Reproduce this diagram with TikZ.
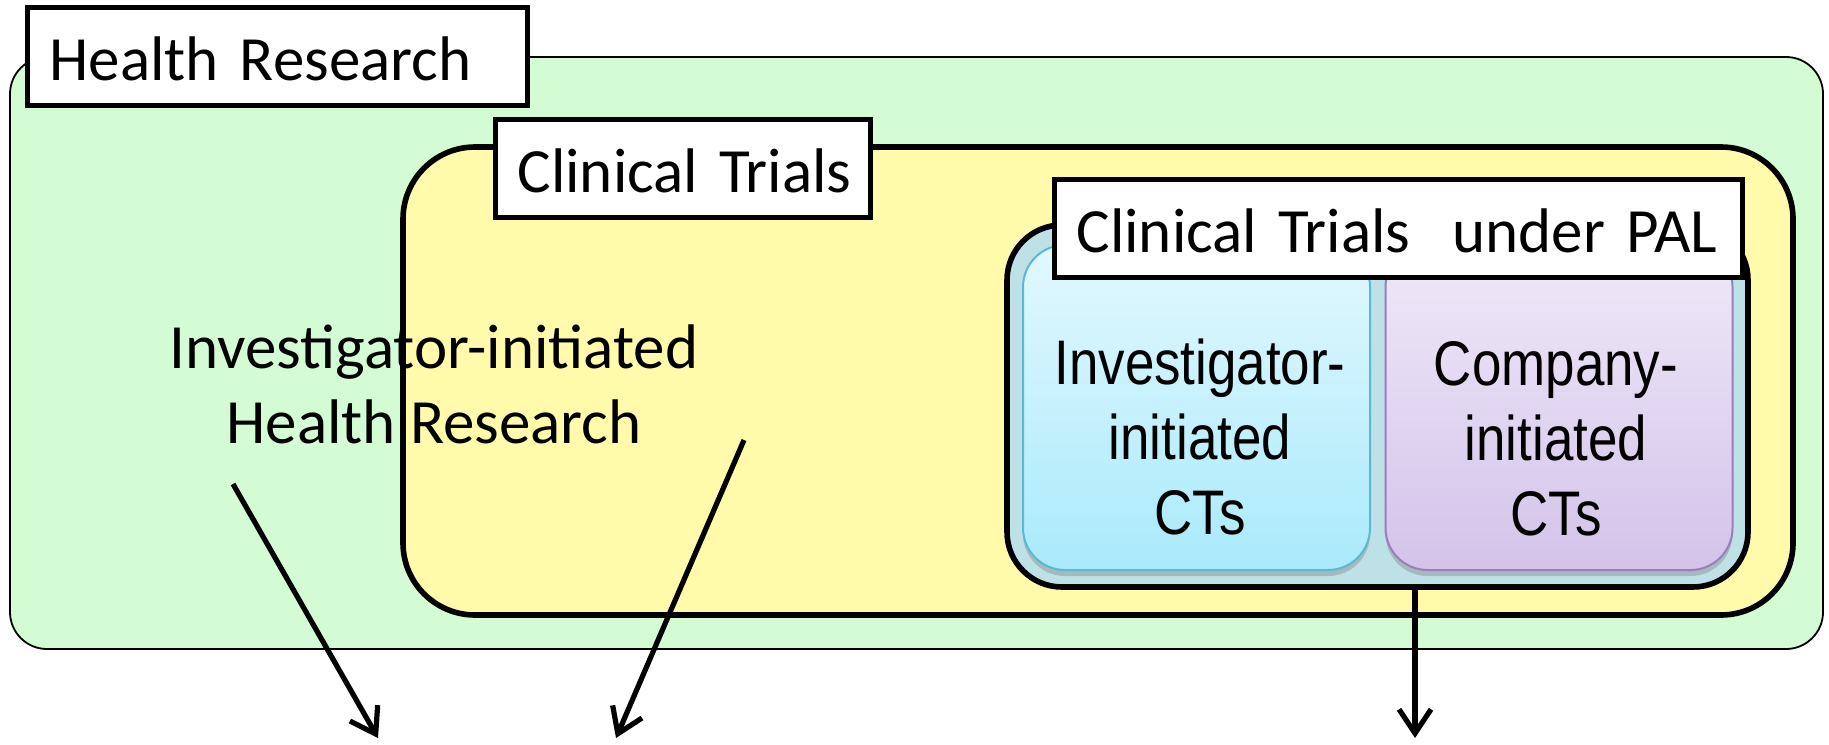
\documentclass[tikz,border=0pt]{standalone}
\usepackage{fontspec}
\setmainfont{Carlito}
\newfontfamily\narrowsans[FakeStretch=0.84]{Liberation Sans}
\usetikzlibrary{arrows.meta}
\usetikzlibrary{shadows}

\definecolor{hrgreen}{HTML}{D4FCD4}
\definecolor{ctyellow}{HTML}{FFFBAA}
\definecolor{palblue}{HTML}{BEE1E8}
\definecolor{invtop}{HTML}{E2F8FE}
\definecolor{invbot}{HTML}{A9EAFB}
\definecolor{invline}{HTML}{5BB8D0}
\definecolor{comptop}{HTML}{EFE9F8}
\definecolor{compbot}{HTML}{D4C3EA}
\definecolor{compline}{HTML}{9B7DB9}

\tikzset{
  area/.style={rectangle,draw=black,line width=2.8pt},
  tag/.style={rectangle,draw=black,fill=white,line width=2.5pt,anchor=north west,
    inner xsep=11pt,inner ysep=0pt,minimum height=49pt,text height=24pt,text depth=0pt,
    align=left,font=\fontsize{31.5}{37.5}\selectfont},
  ctbox/.style={rectangle,rounded corners=21pt,line width=1pt,
    minimum width=173.5pt,minimum height=162.5pt,
    drop shadow={shadow xshift=0pt,shadow yshift=-3pt,opacity=0.4}},
  cttext/.style={align=center,inner sep=0pt,font=\narrowsans\fontsize{31.5}{37.5}\selectfont},
  arr/.style={-{Straight Barb[length=12pt,width=16pt]},line width=2.6pt},
}

\begin{document}
\begin{tikzpicture}[x=0.5pt,y=-0.5pt]
\useasboundingbox (0,0) rectangle (1829,744);

% nested areas
\node[area,fill=hrgreen,line width=0.9pt,rounded corners=18.5pt,minimum width=906.5pt,minimum height=296pt] (hrbox) at (916.5,353) {};
\node[area,fill=ctyellow,rounded corners=36pt,minimum width=695pt,minimum height=234pt] (ctbox) at (1098,381) {};
\node[area,fill=palblue,rounded corners=27.5pt,minimum width=370.5pt,minimum height=181pt] (palbox) at (1377.5,406) {};

\node[ctbox,draw=invline,top color=invtop,bottom color=invbot] (invbox) at (1196.5,407.5) {};
\node[ctbox,draw=compline,top color=comptop,bottom color=compbot] (compbox) at (1559,407.5) {};

% titles
\node[tag,text width=228pt] (hrtag) at (25,5) {\mbox{Health Research}};
\node[tag,text width=165.5pt] (cttag) at (493,117) {\mbox{Clinical Trials}};
\node[tag,text width=322pt] (paltag) at (1052,177) {\mbox{Clinical Trials\ \ under PAL}};

% texts
\node[align=center,inner sep=0pt,font=\fontsize{31.5}{37.5}\selectfont] (invhr) at (434,384) {Investigator-initiated\\Health Research};
\node[cttext] (invtxt) at (1200,437) {Investigator-\\initiated\\CTs};
\node[cttext] (comptxt) at (1556,439) {Company-\\initiated\\CTs};

% arrows
\coordinate (a1) at (233,484);
\coordinate (b1) at (378,738);
\coordinate (a2) at (744,440);
\coordinate (b2) at (616,738);
\coordinate (b3) at (1415,738);
\draw[arr] (a1) -- (b1); %1
\draw[arr] (a2) -- (b2); %2
\draw[arr] (palbox.south -| b3) -- (b3); %3

\end{tikzpicture}
\end{document}
